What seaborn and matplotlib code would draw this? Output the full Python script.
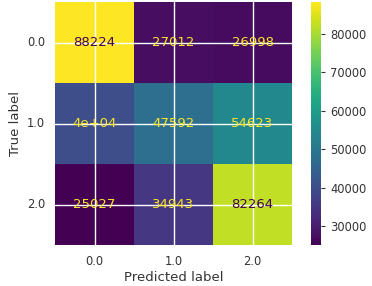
import numpy as np
import seaborn as sns
import matplotlib
matplotlib.use("Agg")
import matplotlib.pyplot as plt

# confusion matrix values
class_labels = ["0.0", "1.0", "2.0"]
row_0 = [88224, 27012, 26998]
row_1 = [40019, 47592, 54623]
row_2 = [25027, 34943, 82264]
cell_text = [
    ["88224", "27012", "26998"],
    ["4e+04", "47592", "54623"],
    ["25027", "34943", "82264"],
]

cm = np.array([row_0, row_1, row_2])

sns.set_theme(style="darkgrid")
plt.rcParams["font.family"] = ["DejaVu Sans"]

fig = plt.figure(figsize=(3.72, 2.86), dpi=100)
ax = fig.add_axes([0.148, 0.143, 0.637, 0.850])
cax = fig.add_axes([0.836, 0.143, 0.027, 0.850])

cmap = plt.get_cmap("viridis")
sns.heatmap(
    cm,
    ax=ax,
    cbar_ax=cax,
    cmap=cmap,
    annot=np.array(cell_text),
    fmt="",
    annot_kws={"fontsize": 9.5},
    xticklabels=class_labels,
    yticklabels=class_labels,
)

# text colour like sklearn: dark on high values, light on low values
thresh = (cm.max() + cm.min()) / 2.0
for txt, val in zip(ax.texts, cm.flatten()):
    txt.set_color(cmap(0.0) if val > thresh else cmap(1.0))

ax.set_axisbelow(False)
ax.grid(True, color="white", linewidth=1)
ax.set_xlabel("Predicted label", fontsize=9.5, color="0.2", labelpad=2)
ax.set_ylabel("True label", fontsize=9.5, color="0.2", labelpad=4)
ax.tick_params(labelsize=8.3, colors="0.2", length=0, pad=7)
plt.setp(ax.get_yticklabels(), rotation=0)
plt.setp(ax.get_xticklabels(), rotation=0)

cax.tick_params(right=True, length=3, width=0.8, labelsize=8.3, colors="0.2")
cax.grid(False)

plt.savefig("out.png", dpi=100)
plt.close()
